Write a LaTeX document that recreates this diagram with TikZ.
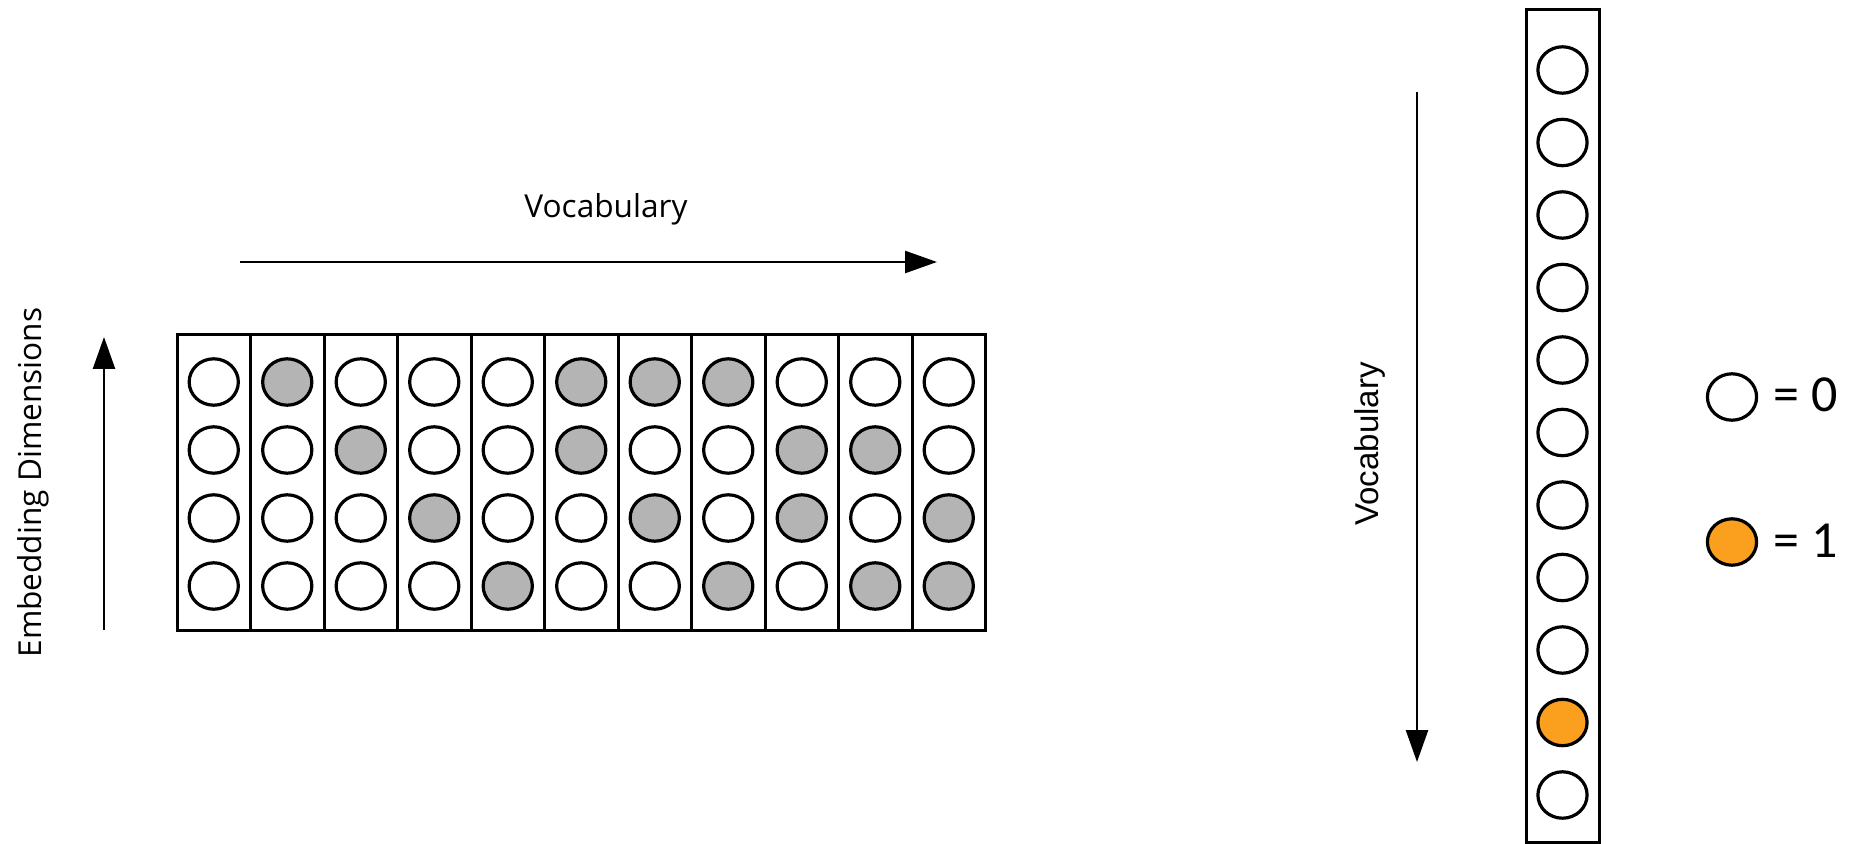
\documentclass[tikz,border=0pt]{standalone}
\usepackage{fontspec}
\setmainfont{Open Sans}
\newfontfamily\arialfont{Liberation Sans}
\newfontfamily\calfont{Carlito}
\usetikzlibrary{arrows.meta,shapes.geometric}
\definecolor{cW}{RGB}{255,255,255}
\definecolor{cG}{RGB}{180,180,180}
\definecolor{cO}{RGB}{250,160,30}
\tikzset{
  colbox/.style={draw=black, line width=1.5pt, fill=white, inner sep=0pt, minimum width=36.75pt, minimum height=147.5pt},
  vbox/.style={draw=black, line width=1.5pt, fill=white, inner sep=0pt, minimum width=36.5pt, minimum height=416pt},
  dot/.style={ellipse, draw=black, line width=1.6pt, inner sep=0pt, minimum width=24.6pt, minimum height=23.2pt},
  axis/.style={line width=1.3pt, -{Triangle[length=16pt,width=11pt]}},
  labA/.style={font=\fontsize{15.8pt}{18pt}\selectfont, inner sep=0pt},
  labB/.style={font=\arialfont\fontsize{16.5pt}{19pt}\selectfont, inner sep=0pt},
  labC/.style={font=\calfont\fontsize{26pt}{30pt}\selectfont, inner sep=0pt}
}
\begin{document}
\begin{tikzpicture}[x=0.5pt,y=-0.5pt]
\useasboundingbox (0,0) rectangle (1852,844);
% matrix columns
\foreach \c in {1,...,11}{
  \node[colbox] (col\c) at ({177+73.5*(\c-0.5)},482.5) {};
}
\foreach \r/\row in {1/{cW,cG,cW,cW,cW,cG,cG,cG,cW,cW,cW},
                     2/{cW,cW,cG,cW,cW,cG,cW,cW,cG,cG,cW},
                     3/{cW,cW,cW,cG,cW,cW,cG,cW,cG,cW,cG},
                     4/{cW,cW,cW,cW,cG,cW,cW,cG,cW,cG,cG}}{
  \foreach \f [count=\c] in \row {
    \node[dot, fill=\f] (m-\r-\c) at ({177+73.5*(\c-0.5)},{382+68*(\r-1)}) {};
  }
}
% top vocabulary arrow
\coordinate (ha) at (240,262);
\coordinate (hb) at (937,262);
\draw[axis] (ha) -- (hb);
\node[labA, anchor=base] (vlabel) at (606,218) {Vocabulary};
% embedding arrow
\coordinate (ea) at (104,630);
\coordinate (eb) at (104,337);
\draw[axis] (ea) -- (eb);
\node[labA, anchor=base, rotate=90] (elabel) at (41,482.5) {Embedding Dimensions};
% right one-hot column
\node[vbox] (vcol) at (1562.5,426) {};
\foreach \i in {1,...,11}{
  \ifnum\i=10
    \node[dot, fill=cO] (v\i) at (1562.5,{70+72.5*(\i-1)}) {};
  \else
    \node[dot, fill=cW] (v\i) at (1562.5,{70+72.5*(\i-1)}) {};
  \fi
}
\coordinate (da) at (1417,92);
\coordinate (db) at (1417,762);
\draw[axis] (da) -- (db);
\node[labB, anchor=base, rotate=90] (rlabel) at (1378,444) {Vocabulary};
% legend
\node[dot, fill=cW] (l0) at (1732,397) {};
\node[dot, fill=cO] (l1) at (1732,542) {};
\node[labC, anchor=base west] (t0) at (1773,412) {= 0};
\node[labC, anchor=base west] (t1) at (1773,557) {= 1};
\end{tikzpicture}
\end{document}
